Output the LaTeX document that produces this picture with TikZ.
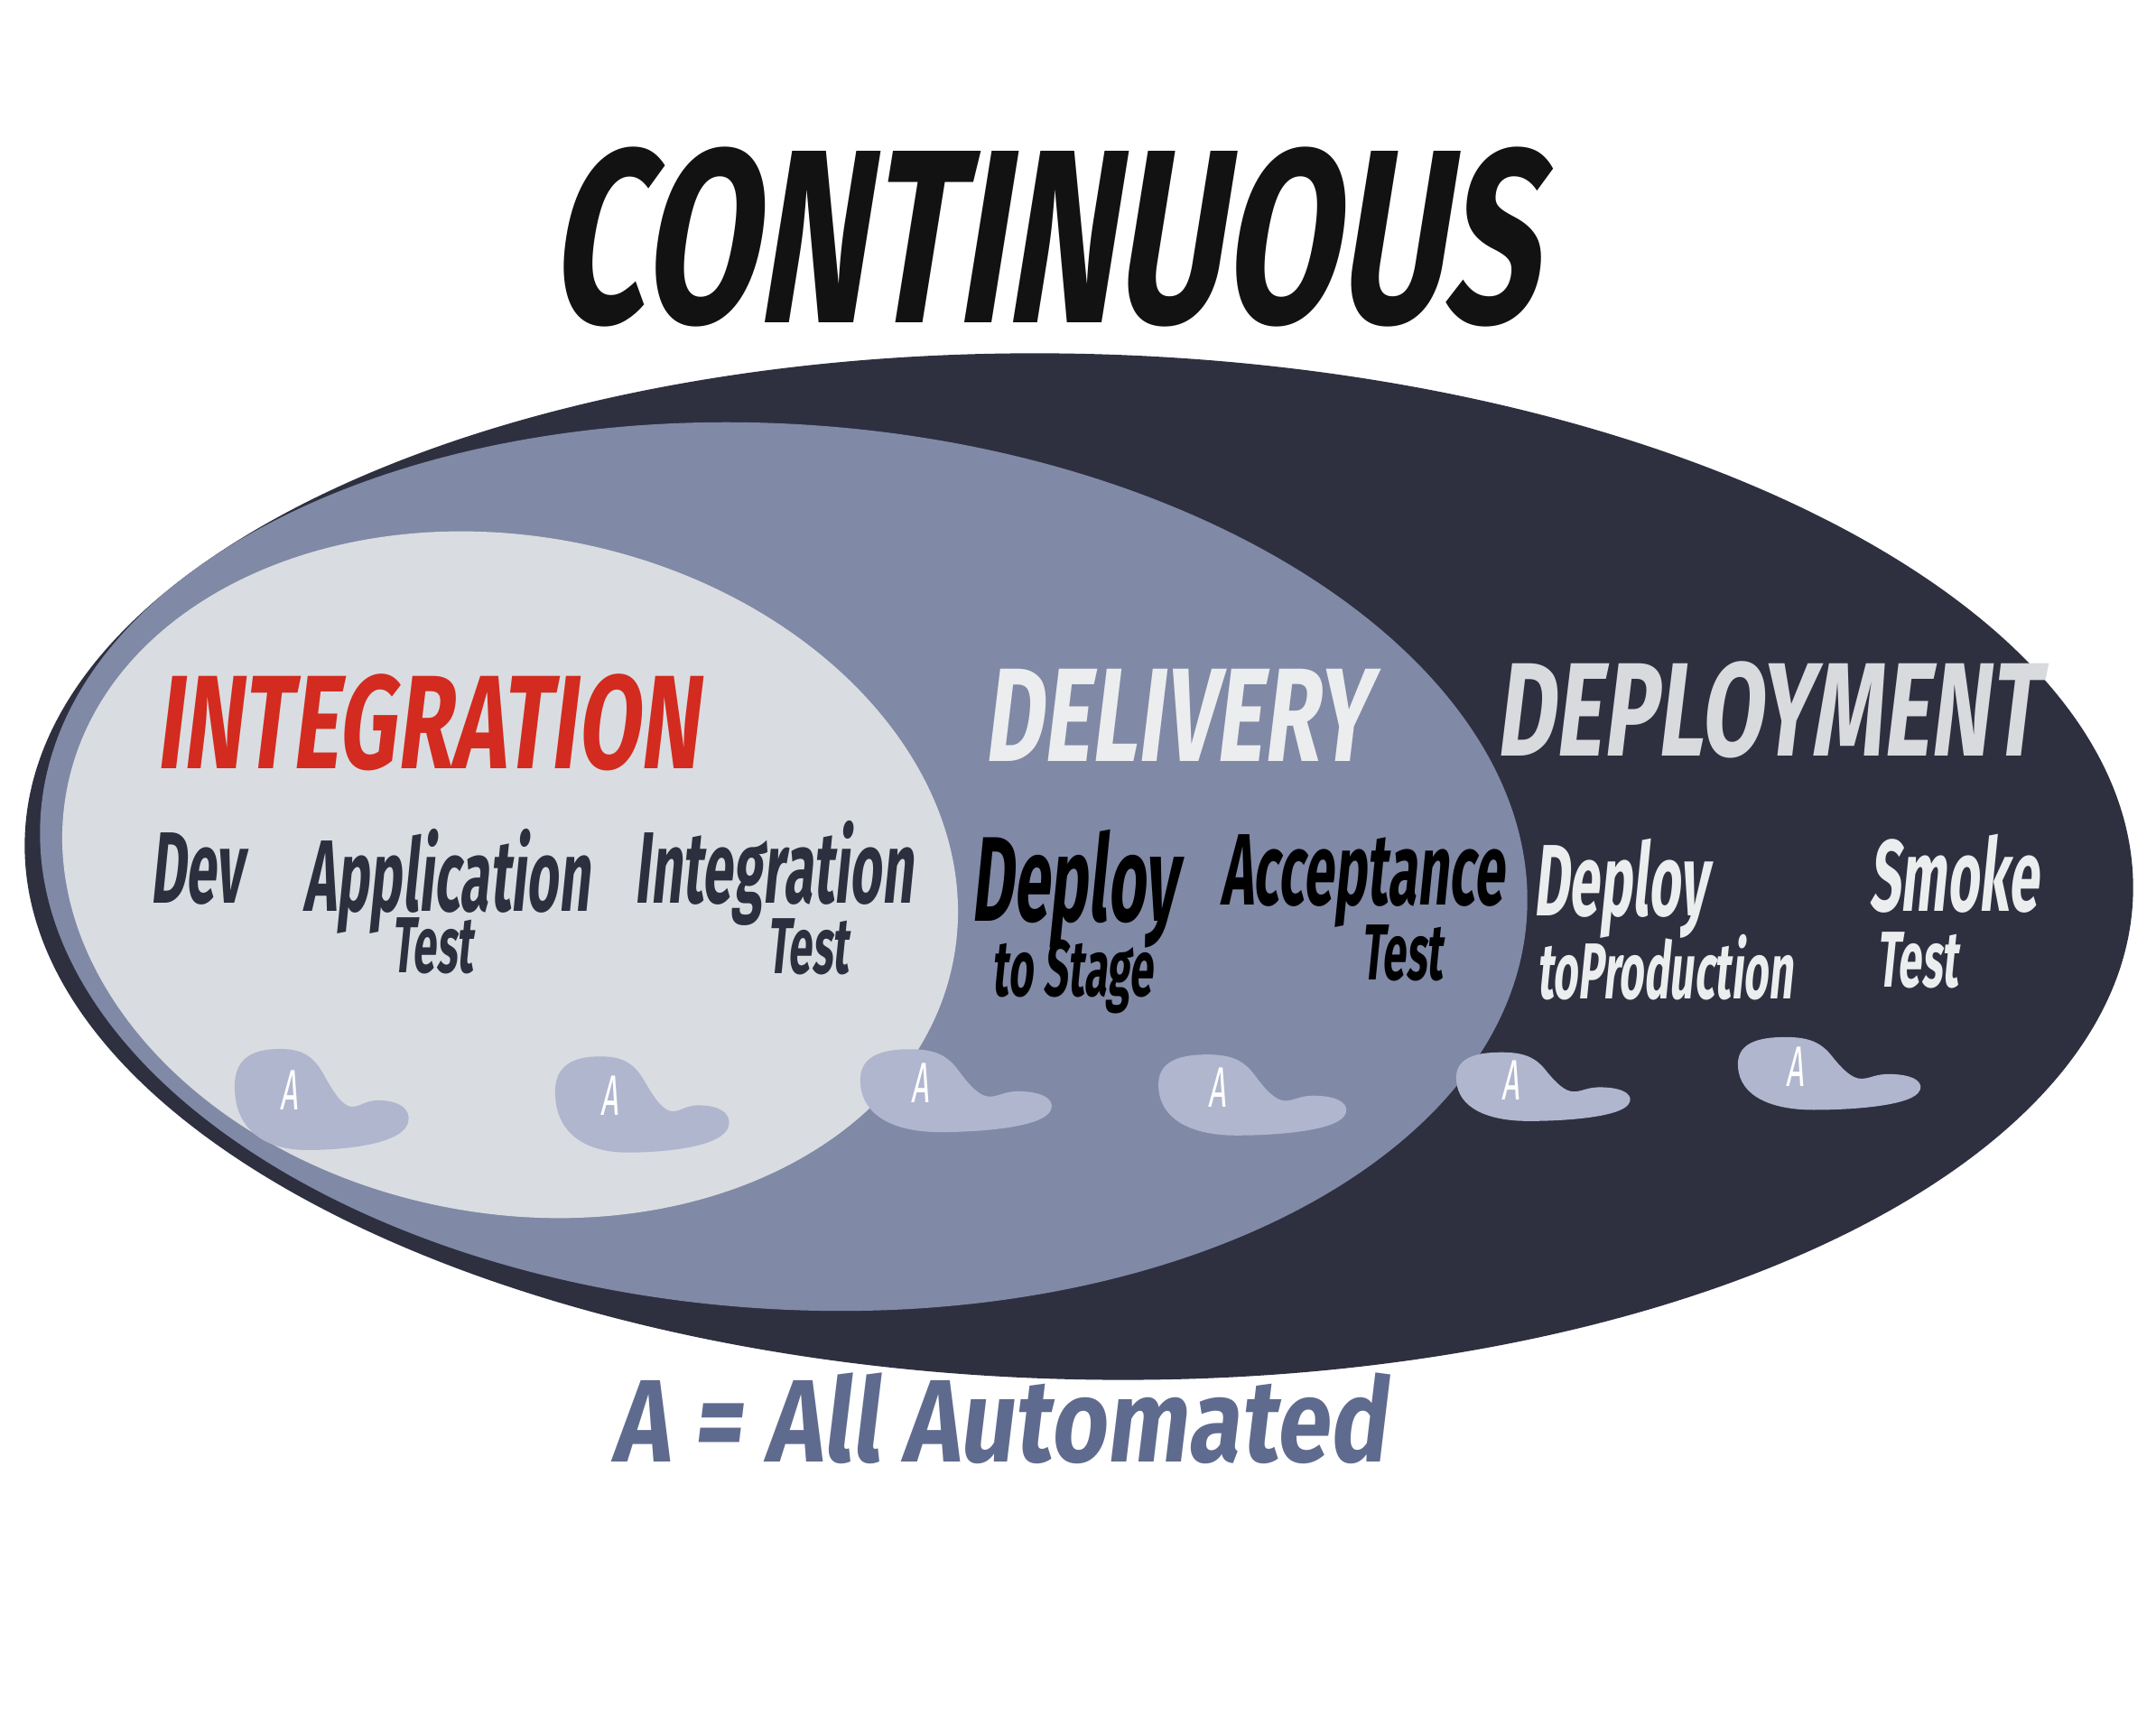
\documentclass[tikz,border=0pt]{standalone}
\usepackage{fontspec}
\usepackage{xcolor}
\usepackage{tikz}
\setmainfont{Fira Sans}
\newfontfamily\titlefont[FakeStretch=0.67,FakeSlant=0.16]{Fira Sans}
\newfontfamily\capsfont[FakeStretch=0.68,FakeSlant=0.12]{Fira Sans}
\newfontfamily\handfont[FakeStretch=0.54,FakeSlant=0.1]{Fira Sans}
\newfontfamily\footfont[FakeStretch=0.82,FakeSlant=0.12]{Fira Sans}
\definecolor{Night}{HTML}{2E3040}
\definecolor{Slate}{HTML}{8089A6}
\definecolor{Mist}{HTML}{D9DDE1}
\definecolor{Blob}{HTML}{B0B6CE}
\definecolor{Brick}{HTML}{D32B1F}
\definecolor{Chalk}{HTML}{ECEDEE}
\definecolor{SlateInk}{HTML}{2B2F3E}
\definecolor{Footer}{HTML}{5F6B8E}

\begin{document}
\begin{tikzpicture}[
  title/.style={font=\titlefont\bfseries\fontsize{78}{80}\selectfont,text=black!93,inner sep=0pt},
  stage/.style={font=\capsfont\bfseries\fontsize{42}{44}\selectfont,inner sep=0pt},
  word/.style={font=\handfont\bfseries\fontsize{32}{34}\selectfont,inner sep=0pt},
  subword/.style={font=\handfont\bfseries\fontsize{25}{27}\selectfont,inner sep=0pt},
  ablob/.pic={
    \fill[Blob] (-0.60,0.00) .. controls (-0.62,0.36) and (-0.40,0.46) .. (-0.10,0.46)
      .. controls (0.15,0.46) and (0.28,0.38) .. (0.40,0.15)
      .. controls (0.50,-0.03) and (0.60,-0.18) .. (0.70,-0.18)
      .. controls (0.80,-0.18) and (0.85,-0.10) .. (1.02,-0.11)
      .. controls (1.28,-0.12) and (1.38,-0.26) .. (1.30,-0.40)
      .. controls (1.18,-0.60) and (0.60,-0.66) .. (0.20,-0.66)
      .. controls (-0.25,-0.66) and (-0.58,-0.45) .. (-0.60,0.00) -- cycle;
    \node[font=\handfont\fontsize{18}{19}\selectfont,text=white,inner sep=0pt] (-a) {A};
  }
]
  \fill[white] (0,0) rectangle (23.88,19.12);
  \useasboundingbox (0,0) rectangle (23.88,19.12);

  % the three rings
  \fill[Night] (11.95,9.52) ellipse[x radius=11.68,y radius=5.68,rotate=-1.5];
  \fill[Slate] (8.68,9.52) ellipse[x radius=8.25,y radius=4.90,rotate=-4];
  \fill[Mist] (5.65,9.43) ellipse[x radius=5.00,y radius=3.75,rotate=-11];

  \node[title] (cont) at (11.54,16.49) {CONTINUOUS};

  \node[stage,text=Brick] (integ) at (4.73,11.12) {INTEGRATION};
  \node[stage,text=Chalk] (deliv) at (13.03,11.20) {DELIVERY};
  \node[stage,text=Chalk!90!Night] (deploy) at (19.57,11.26) {DEPLOYMENT};

  % steps
  \node[word,text=SlateInk] (dev) at (2.18,9.49) {Dev};
  \node[word,text=SlateInk] (app) at (4.95,9.36) {Application};
  \node[subword,text=SlateInk] (appT) at (4.79,8.64) {Test};
  \node[word,text=SlateInk] (int) at (8.57,9.45) {Integration};
  \node[subword,text=SlateInk] (intT) at (8.95,8.63) {Test};
  \node[word,text=black,font=\handfont\bfseries\fontsize{38}{40}\selectfont] (stg) at (11.90,9.27) {Deploy};
  \node[subword,text=black] (stgT) at (11.88,8.30) {to Stage};
  \node[word,text=black] (acc) at (15.09,9.36) {Acceptance};
  \node[subword,text=black] (accT) at (15.53,8.56) {Test};
  \node[word,text=Chalk] (prod) at (17.95,9.28) {Deploy};
  \node[subword,text=Chalk] (prodT) at (18.44,8.40) {toProduction};
  \node[word,text=Chalk] (smoke) at (21.64,9.44) {Smoke};
  \node[subword,text=Chalk] (smokeT) at (21.24,8.48) {Test};

  % automation marks
  \pic (b1) at (3.20,7.04) {ablob};
  \pic[yscale=0.95] (b2) at (6.75,6.98) {ablob};
  \pic[xscale=1.1,yscale=0.82] (b3) at (10.19,7.12) {ablob};
  \pic[xscale=1.08,yscale=0.8] (b4) at (13.48,7.07) {ablob};
  \pic[xscale=1.0,yscale=0.68] (b5) at (16.73,7.15) {ablob};
  \pic[xscale=1.05,yscale=0.72] (b6) at (19.88,7.30) {ablob};

  \node[font=\footfont\bfseries\fontsize{37}{39}\selectfont,text=Footer,inner sep=0pt] (key) at (11.07,3.41) {A = All Automated};
\end{tikzpicture}
\end{document}
